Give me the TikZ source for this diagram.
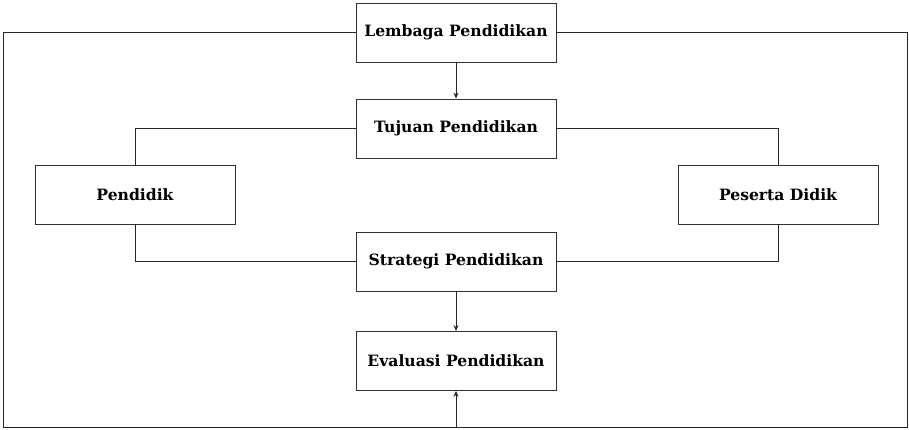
\documentclass[tikz,border=0pt]{standalone}
\usepackage{fontspec}
\setmainfont{DejaVu Serif}
\usetikzlibrary{arrows.meta}
\tikzset{
	kotak/.style = {draw, color = black!80, text = black, line width = 0.8pt, minimum width = 200pt, minimum height = 59pt, inner sep = 0pt, font = \bfseries\fontsize{15.6}{18}\selectfont},
	garis/.style = {color = black!85, line width = 1pt},
	panah/.style = {garis, -{Stealth[length = 6pt, width = 5pt]}}
}
\begin{document}
\begin{tikzpicture}[x = 1pt, y = -1pt]
	\useasboundingbox (0,0) rectangle (909,429);
	\node[kotak] (lembaga) at (456,32.5) {Lembaga Pendidikan};
	\node[kotak] (tujuan) at (456,128.5) {Tujuan Pendidikan};
	\node[kotak] (pendidik) at (135,194.5) {Pendidik};
	\node[kotak] (peserta) at (778,194.5) {Peserta Didik};
	\node[kotak] (strategi) at (456,261.5) {Strategi Pendidikan};
	\node[kotak] (evaluasi) at (456,361) {Evaluasi Pendidikan};
	\coordinate (bawah) at (456,427);
	\draw[panah] (lembaga) -- (tujuan);
	\draw[panah] (strategi) -- (evaluasi);
	\draw[garis] (lembaga.west) -- (3,32.5) |- (bawah) -| (907,32.5) -- (lembaga.east);
	\draw[panah] (bawah) -- (evaluasi);
	\draw[garis] (tujuan.west) -| (pendidik.north);
	\draw[garis] (tujuan.east) -| (peserta.north);
	\draw[garis] (pendidik.south) |- (strategi.west);
	\draw[garis] (peserta.south) |- (strategi.east);
\end{tikzpicture}
\end{document}
